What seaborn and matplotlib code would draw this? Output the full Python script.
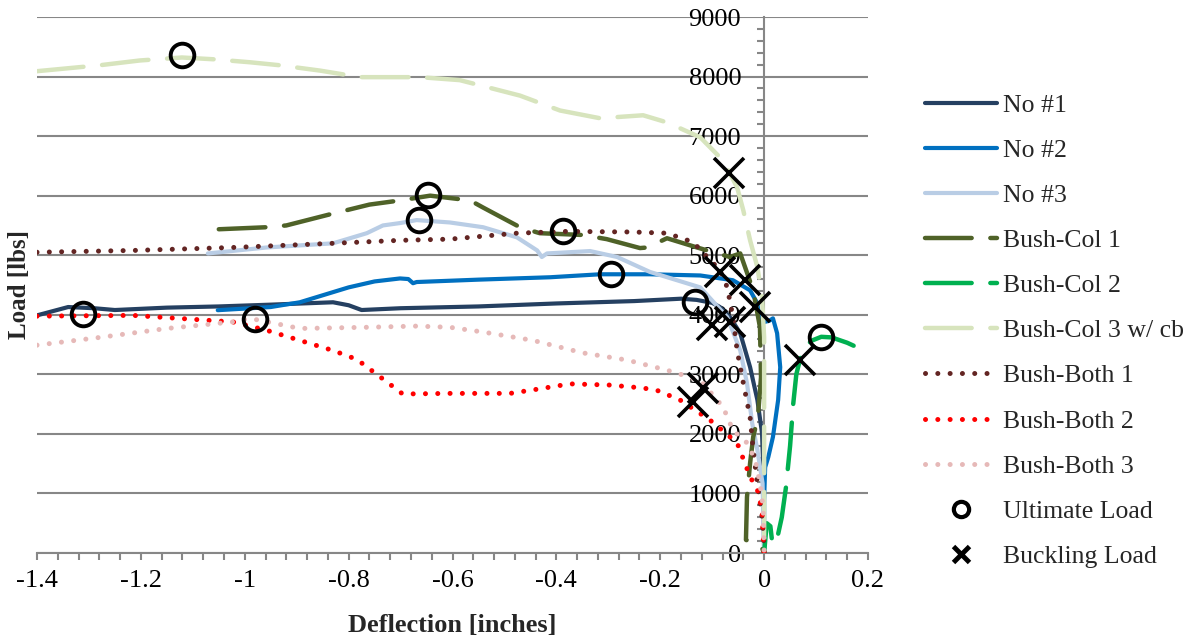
import numpy as np
import matplotlib
matplotlib.use("Agg")
import matplotlib.pyplot as plt
from matplotlib.ticker import MultipleLocator, FuncFormatter
from matplotlib.lines import Line2D
import seaborn as sns

# ---------------- data ----------------
no1_x = [-1.4, -1.37, -1.34, -1.29, -1.25, -1.15, -1.05, -0.95, -0.83, -0.80, -0.775, -0.70, -0.55, -0.40,
         -0.25, -0.16, -0.13, -0.10, -0.085, -0.065, -0.046, -0.027, -0.013, -0.004, -0.002, 0.0]
no1_y = [3990, 4060, 4130, 4110, 4080, 4120, 4140, 4170, 4210, 4160, 4080, 4110, 4140, 4190,
         4230, 4270, 4250, 4200, 4130, 3950, 3690, 3120, 2570, 2010, 1510, 0]

no2_x = [-1.052, -0.95, -0.894, -0.80, -0.75, -0.701, -0.685, -0.676, -0.669, -0.55, -0.412, -0.316, -0.22,
         -0.123, -0.06, -0.027, -0.013, -0.008, 0.010, 0.017, 0.025, 0.031, 0.027, 0.017, 0.008, 0.002, 0.0, 0.0]
no2_y = [4077, 4130, 4210, 4460, 4560, 4610, 4600, 4530, 4550, 4590, 4630, 4680, 4680,
         4660, 4580, 4410, 4190, 3860, 3900, 3940, 3690, 3120, 2570, 1950, 1610, 1440, 890, 0]

no3_x = [-1.071, -0.958, -0.83, -0.765, -0.734, -0.701, -0.669, -0.605, -0.541, -0.476, -0.437, -0.428, -0.418,
         -0.335, -0.283, -0.22, -0.123, -0.071, -0.046, -0.033, -0.023, -0.013, -0.003, 0.0]
no3_y = [5030, 5130, 5200, 5370, 5500, 5540, 5590, 5550, 5470, 5300, 5080, 4970, 5030,
         5070, 4970, 4720, 4460, 3960, 3400, 2850, 2180, 1730, 1170, 0]

bc1_x = [-1.05, -0.958, -0.92, -0.83, -0.76, -0.701, -0.643, -0.566, -0.541, -0.47, -0.432, -0.349, -0.303,
         -0.239, -0.225, -0.187, -0.129, -0.066, -0.046, -0.021, -0.008, -0.006, -0.012, -0.021, -0.027,
         -0.033, -0.035, -0.005, 0.0]
bc1_y = [5436, 5470, 5500, 5700, 5850, 5920, 6000, 5920, 5800, 5470, 5370, 5340, 5270,
         5120, 5130, 5285, 5130, 4970, 5030, 4410, 3790, 2950, 2280, 1950, 1510,
         940, 220, 100, 0]

bc2_x = [0.0, 0.005, 0.012, 0.016, 0.024, 0.034, 0.042, 0.05, 0.056, 0.062, 0.072, 0.09, 0.11, 0.13, 0.16, 0.2]
bc2_y = [0, 500, 450, 150, 200, 600, 1100, 1800, 2500, 3000, 3350, 3560, 3630, 3620, 3530, 3370]

bc3_x = [-1.4, -1.279, -1.202, -1.121, -1.06, -0.99, -0.933, -0.855, -0.778, -0.663, -0.586, -0.47, -0.393,
         -0.316, -0.233, -0.187, -0.123, -0.079, -0.052, -0.04, -0.027, -0.013, -0.004, 0.0, 0.0, 0.0]
bc3_y = [8090, 8190, 8270, 8320, 8290, 8240, 8190, 8100, 7990, 7990, 7940, 7680, 7430,
         7300, 7350, 7230, 6980, 6590, 6140, 5750, 5250, 4800, 4300, 3620, 3120, 0]

bb1_x = [-1.4, -1.216, -1.023, -0.83, -0.701, -0.605, -0.476, -0.38, -0.252, -0.187, -0.137, -0.104, -0.085,
         -0.071, -0.06, -0.052, -0.04, -0.027, -0.021, -0.013, -0.004, 0.0, 0.0]
bb1_y = [5050, 5080, 5130, 5200, 5250, 5270, 5370, 5400, 5390, 5370, 5220, 4920, 4750,
         4460, 3960, 3400, 2850, 2280, 1730, 1170, 600, 130, 0]

bb2_x = [-1.4, -1.216, -1.023, -0.958, -0.894, -0.83, -0.784, -0.726, -0.696, -0.605, -0.489, -0.437, -0.374,
         -0.297, -0.233, -0.206, -0.162, -0.104, -0.052, -0.027, -0.013, -0.004, -0.002, 0.0]
bb2_y = [3977, 3990, 3880, 3740, 3570, 3400, 3250, 2870, 2670, 2680, 2680, 2750, 2840,
         2820, 2770, 2730, 2570, 2230, 1850, 1280, 1060, 720, 300, 0]

bb3_x = [-1.4, -1.279, -1.15, -1.023, -0.99, -0.894, -0.765, -0.669, -0.605, -0.541, -0.445, -0.349, -0.264,
         -0.187, -0.123, -0.079, -0.06, -0.033, -0.017, -0.008, -0.002, 0.0]
bb3_y = [3490, 3620, 3770, 3880, 3940, 3770, 3790, 3810, 3790, 3710, 3570, 3360, 3240,
         3070, 2900, 2450, 2060, 1850, 1560, 1170, 770, 0]

ult_x = [-1.312, -1.121, -0.981, -0.665, -0.647, -0.387, -0.295, -0.133, 0.110]
ult_y = [4010, 8356, 3926, 5587, 6007, 5403, 4681, 4211, 3620]

buck_x = [-0.067, -0.085, -0.037, -0.017, -0.100, -0.066, -0.118, -0.137, 0.069]
buck_y = [6376, 4715, 4580, 4127, 3826, 3876, 2770, 2530, 3240]

series_names = ["No #1", "No #2", "No #3", "Bush-Col 1", "Bush-Col 2", "Bush-Col 3 w/ cb",
                "Bush-Both 1", "Bush-Both 2", "Bush-Both 3"]
series_colors = ["#254061", "#0070C0", "#B9CDE5", "#4F6228", "#00B050", "#D7E4BD",
                 "#632523", "#FF0000", "#E6B9B8"]
series_kinds = ["solid", "solid", "solid", "dash", "dash", "dash", "dot", "dot", "dot"]
series_data = [(no1_x, no1_y), (no2_x, no2_y), (no3_x, no3_y), (bc1_x, bc1_y), (bc2_x, bc2_y),
               (bc3_x, bc3_y), (bb1_x, bb1_y), (bb2_x, bb2_y), (bb3_x, bb3_y)]

x_ticks = [-1.4, -1.2, -1.0, -0.8, -0.6, -0.4, -0.2, 0.0, 0.2]
y_ticks = [0, 1000, 2000, 3000, 4000, 5000, 6000, 7000, 8000, 9000]

# ---------------- style ----------------
sns.set_theme(style="white")
plt.rcParams["font.family"] = ["Liberation Serif", "DejaVu Serif"]
plt.rcParams["axes.unicode_minus"] = False

GRAY = "#878787"

fig = plt.figure(figsize=(11.98, 6.43), dpi=100)
ax = fig.add_axes([37 / 1198, 1 - 553 / 643, (868 - 37) / 1198, (553 - 17) / 643])

handles = []
for (xs, ys), name, col, kind in zip(series_data, series_names, series_colors, series_kinds):
    kw = dict(color=col, sort=False, estimator=None, ax=ax, zorder=3)
    if kind == "solid":
        kw.update(linewidth=3.0, linestyle="-", solid_capstyle="round", solid_joinstyle="round")
    elif kind == "dash":
        kw.update(linewidth=3.2, linestyle=(0, (10.5, 4.2)), dash_capstyle="round", dash_joinstyle="round")
    else:
        kw.update(linewidth=3.6, linestyle=(0, (0.01, 2.45)), dash_capstyle="round")
    sns.lineplot(x=xs, y=ys, **kw)
    handles.append(ax.get_lines()[-1])

sns.lineplot(x=ult_x, y=ult_y, sort=False, estimator=None, ax=ax, linestyle="none",
             marker="o", markersize=17, markerfacecolor="none", markeredgecolor="black",
             markeredgewidth=2.8, zorder=6)
sns.lineplot(x=buck_x, y=buck_y, sort=False, estimator=None, ax=ax, linestyle="none",
             marker="x", markersize=21, markeredgecolor="black", color="black",
             markeredgewidth=2.6, zorder=6)

ax.set_xlim(-1.4, 0.2)
ax.set_ylim(0, 9000)

ax.set_xticks(x_ticks)
ax.set_yticks(y_ticks)
ax.xaxis.set_minor_locator(MultipleLocator(0.04))
ax.yaxis.set_minor_locator(MultipleLocator(200))
ax.xaxis.set_major_formatter(FuncFormatter(lambda v, p: "%g" % round(v, 2)))
ax.yaxis.set_major_formatter(FuncFormatter(lambda v, p: "%d" % v))

ax.yaxis.grid(True, color=GRAY, linewidth=1.5, zorder=0)
ax.xaxis.grid(False)
ax.set_axisbelow(True)

for s in ["top", "right"]:
    ax.spines[s].set_visible(False)
ax.spines["left"].set_position(("data", 0))
for s in ["left", "bottom"]:
    ax.spines[s].set_color(GRAY)
    ax.spines[s].set_linewidth(1.5)

ax.tick_params(axis="y", which="major", length=0, pad=16.5, labelsize=19, colors="black")
ax.tick_params(axis="y", which="minor", length=5, width=1.5, color=GRAY, direction="out", left=True)
ax.tick_params(axis="x", which="both", length=5, width=1.5, color=GRAY, direction="out", bottom=True)
ax.tick_params(axis="x", which="major", pad=7, labelsize=19, labelcolor="black")

ax.set_xlabel("Deflection [inches]", fontsize=19, fontweight="bold", labelpad=16)
ax.set_ylabel("")
fig.text(20 / 1198, 1 - 285 / 643, "Load [lbs]", rotation=90, fontsize=18, fontweight="bold",
         ha="center", va="center")

ult_h = Line2D([], [], linestyle="none", marker="o", markersize=11, markerfacecolor="none",
               markeredgecolor="black", markeredgewidth=3)
buck_h = Line2D([], [], linestyle="none", marker="x", markersize=11, markeredgecolor="black",
                markeredgewidth=3.5)
leg = fig.legend(handles + [ult_h, buck_h], series_names + ["Ultimate Load", "Buckling Load"],
                 loc="upper left", bbox_to_anchor=(925 / 1198, 1 - 94 / 643), bbox_transform=fig.transFigure,
                 frameon=False, fontsize=18.5, handlelength=2.8, handletextpad=0.25,
                 labelspacing=0.86, borderpad=0, borderaxespad=0)

fig.savefig("out.png", dpi=100)
